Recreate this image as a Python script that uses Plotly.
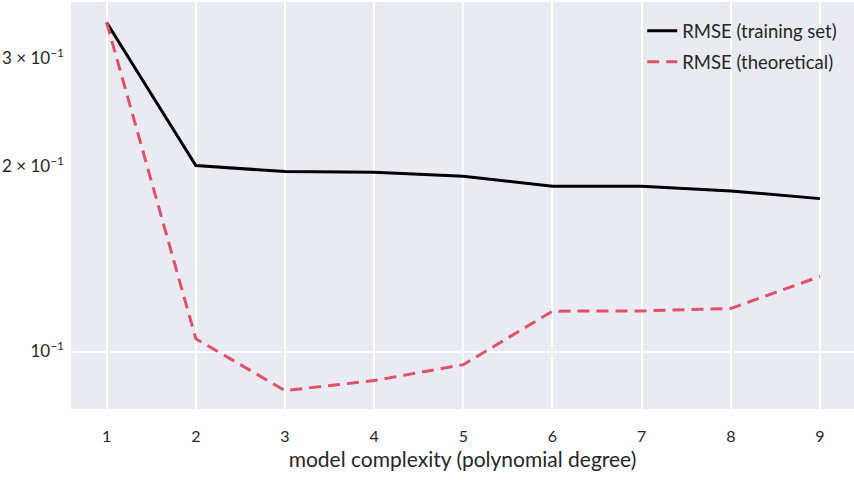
import plotly.graph_objects as go

degrees = [1, 2, 3, 4, 5, 6, 7, 8, 9]
rmse_train = [0.3425, 0.2005, 0.1961, 0.1956, 0.1926, 0.1856, 0.1856, 0.1824, 0.1772]
rmse_theory = [0.3425, 0.1049, 0.0864, 0.0897, 0.0952, 0.1163, 0.1164, 0.1175, 0.1324]
ytick_vals = [0.1, 0.2, 0.3]
ytick_text = ["10<sup>−1</sup>", "2 × 10<sup>−1</sup>", "3 × 10<sup>−1</sup>"]

fig = go.Figure()
fig.add_trace(go.Scatter(x=degrees, y=rmse_train, mode="lines",
                         name="RMSE (training set)", legendgroup="a",
                         line=dict(color="#000000", width=3)))
fig.add_trace(go.Scatter(x=degrees, y=rmse_theory, mode="lines",
                         name="RMSE (theoretical)", legendgroup="b",
                         line=dict(color="#E05269", width=3, dash="12px,7px")))

fig.update_layout(
    width=854, height=480,
    margin=dict(l=71, r=0, t=2, b=71, autoexpand=False),
    paper_bgcolor="white",
    plot_bgcolor="#EAEAF2",
    font=dict(family="Lato", color="#262626", size=15),
    showlegend=True,
    legend=dict(x=0.985, y=0.975, xanchor="right", yanchor="top",
                bgcolor="rgba(0,0,0,0)", font=dict(size=18.5, color="#262626"),
                tracegroupgap=4),
    xaxis=dict(range=[0.6, 9.382], tickvals=degrees, showgrid=True,
               gridcolor="white", gridwidth=1.8, zeroline=False, showline=False,
               ticks="", ticklabelstandoff=16, tickfont=dict(size=16),
               title=dict(text="model complexity (polynomial degree)",
                          font=dict(size=21), standoff=8)),
    yaxis=dict(type="log", range=[-1.0934, -0.432], tickvals=ytick_vals,
               ticktext=ytick_text, showgrid=False, zeroline=False,
               showline=False, ticks="", ticklabelstandoff=6,
               tickfont=dict(size=17),
               minor=dict(tickvals=[0.1], showgrid=True, gridcolor="white",
                          gridwidth=1.8, ticks="")),
)

fig.write_html(
    "out.html",
    config={"displayModeBar": False},
    post_script="document.body.style.margin='0';document.body.style.overflow='hidden';",
)
